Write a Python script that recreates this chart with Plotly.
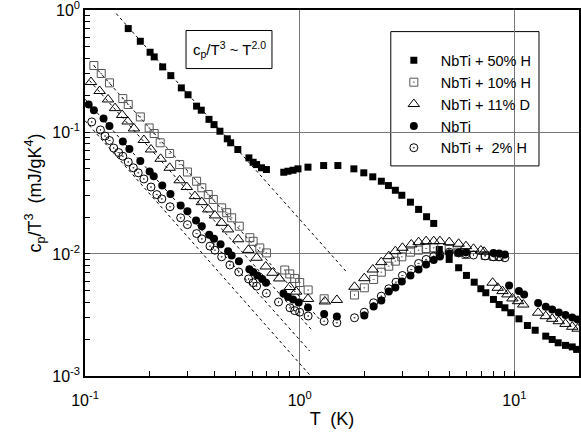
import plotly.graph_objects as go

# NbTi + 50% H (filled squares)
t_50h = [0.159, 0.181, 0.201, 0.210, 0.230, 0.251, 0.281, 0.302, 0.331, 0.348,
         0.378, 0.399, 0.425, 0.460, 0.477, 0.515, 0.580, 0.607, 0.630, 0.664,
         0.700, 0.843, 0.882, 0.931, 0.982, 1.093, 1.293, 1.506, 1.788, 1.989,
         2.19, 2.40, 2.59, 2.79, 2.99, 3.28, 3.58, 3.90, 4.21, 4.47,
         4.97, 5.50, 5.98, 6.50, 6.98, 7.36, 7.99, 8.49, 9.03, 9.62,
         10.5, 11.5, 12.5, 14.0, 15.0, 16.0, 17.3, 18.6, 19.5]
c_50h = [0.705, 0.555, 0.451, 0.413, 0.342, 0.290, 0.230, 0.202, 0.163, 0.151,
         0.127, 0.115, 0.1015, 0.0880, 0.0816, 0.0719, 0.0614, 0.0565, 0.0541, 0.0509,
         0.0493, 0.0468, 0.0477, 0.0486, 0.0499, 0.0515, 0.0531, 0.0531, 0.0499, 0.0463,
         0.0429, 0.0395, 0.0364, 0.0333, 0.0303, 0.0266, 0.0232, 0.0202, 0.0178, 0.01088,
         0.00902, 0.00771, 0.00667, 0.00587, 0.00519, 0.00481, 0.00424, 0.00385, 0.00362, 0.00330,
         0.00294, 0.00259, 0.00237, 0.00212, 0.00199, 0.00187, 0.00178, 0.00173, 0.00165]

# NbTi + 10% H (open squares)
t_10h = [0.110, 0.119, 0.130, 0.150, 0.159, 0.181, 0.199, 0.210, 0.224, 0.248,
         0.276, 0.300, 0.331, 0.350, 0.375, 0.396, 0.433, 0.457, 0.482, 0.523,
         0.586, 0.607, 0.652, 0.700, 0.852, 0.899, 0.948, 1.0, 1.095, 1.30,
         1.80, 2.00, 2.21, 2.40, 2.60, 2.79, 2.99, 3.28, 3.58, 3.88,
         4.21, 4.97, 5.50, 5.95, 7.31, 7.99, 8.49]
c_10h = [0.351, 0.302, 0.253, 0.188, 0.168, 0.133, 0.108, 0.0972, 0.0816, 0.0667,
         0.0541, 0.0470, 0.0395, 0.0349, 0.0307, 0.0280, 0.0239, 0.0218, 0.0198, 0.0169,
         0.0136, 0.0127, 0.0112, 0.0102, 0.00739, 0.00686, 0.00630, 0.00584, 0.00507, 0.00429,
         0.00461, 0.00528, 0.00618, 0.00709, 0.00794, 0.00873, 0.00948, 0.01035, 0.01075, 0.01109,
         0.01124, 0.01088, 0.01035, 0.00990, 0.00972, 0.00954, 0.00952]

# NbTi + 11% D (open triangles)
t_11d = [0.1066, 0.117, 0.128, 0.138, 0.149, 0.158, 0.169, 0.188, 0.203, 0.225,
         0.248, 0.276, 0.298, 0.325, 0.350, 0.375, 0.403, 0.433, 0.464, 0.517,
         0.577, 0.630, 0.695, 0.747, 0.803, 0.899, 0.963, 1.093, 1.31, 1.49,
         1.80, 2.00, 2.19, 2.40, 2.60, 2.79, 3.01, 3.31, 3.58, 3.88,
         4.21, 4.50, 4.97, 5.50, 5.95, 6.45, 6.98, 7.23, 7.92, 8.36,
         8.80, 9.28, 9.79, 10.4, 11.0, 12.9, 14.0, 15.0, 16.1, 17.3,
         18.6, 19.7]
c_11d = [0.257, 0.217, 0.185, 0.157, 0.138, 0.122, 0.107, 0.0860, 0.0719, 0.0603,
         0.0509, 0.0402, 0.0354, 0.0298, 0.0266, 0.0232, 0.0207, 0.0180, 0.0159, 0.0132,
         0.0108, 0.00931, 0.00790, 0.00701, 0.00630, 0.00536, 0.00491, 0.00428, 0.00408, 0.00420,
         0.00538, 0.00633, 0.00746, 0.00857, 0.00959, 0.01054, 0.01124, 0.01197, 0.0125, 0.01274,
         0.01274, 0.01274, 0.0125, 0.01213, 0.01159, 0.01103, 0.01068, 0.01042, 0.00581, 0.00528,
         0.00496, 0.00466, 0.00432, 0.00410, 0.00385, 0.00330, 0.00309, 0.00294, 0.00281, 0.00267,
         0.00253, 0.00244]

# NbTi (filled circles)
t_nbti = [0.104, 0.110, 0.122, 0.130, 0.150, 0.161, 0.181, 0.200, 0.209, 0.229,
          0.250, 0.279, 0.300, 0.329, 0.350, 0.379, 0.399, 0.428, 0.464, 0.482,
          0.521, 0.583, 0.607, 0.635, 0.669, 0.697, 0.840, 0.882, 0.931, 0.989,
          1.093, 1.30, 1.49, 2.00, 2.21, 2.40, 2.60, 2.79, 2.99, 3.28,
          3.58, 3.88, 4.21, 4.50, 4.97, 5.50, 5.95, 7.99, 8.49, 9.03,
          9.45, 10.5, 11.1, 12.9, 14.0, 15.0, 16.1, 17.3, 18.6, 19.7]
c_nbti = [0.168, 0.151, 0.129, 0.112, 0.0836, 0.0725, 0.0578, 0.0475, 0.0434, 0.0364,
          0.0310, 0.0250, 0.0224, 0.0188, 0.0169, 0.0144, 0.0133, 0.0120, 0.01054, 0.00972,
          0.00873, 0.00750, 0.00712, 0.00666, 0.00624, 0.00581, 0.00475, 0.00444, 0.00424, 0.00400,
          0.00364, 0.00322, 0.00307, 0.00313, 0.00371, 0.00416, 0.00493, 0.00531, 0.00595, 0.00666,
          0.00746, 0.00820, 0.00893, 0.00954, 0.0101, 0.0103, 0.0103, 0.0102, 0.0101, 0.00990,
          0.00552, 0.00496, 0.00466, 0.00397, 0.00369, 0.00351, 0.00332, 0.00316, 0.00302, 0.00290]

# NbTi + 2% H (open circles)
t_2h = [0.1075, 0.118, 0.124, 0.130, 0.136, 0.1435, 0.150, 0.159, 0.168, 0.177,
        0.188, 0.203, 0.216, 0.228, 0.249, 0.279, 0.300, 0.331, 0.350, 0.382,
        0.403, 0.433, 0.473, 0.520, 0.578, 0.607, 0.630, 0.700, 0.797, 0.901,
        0.948, 1.0, 1.095, 1.30, 1.49, 1.80, 2.00, 2.21, 2.40, 2.60,
        2.81, 3.01, 3.31, 3.58, 3.88, 4.21, 4.50, 4.97, 5.50, 5.95,
        6.45, 7.31, 7.99, 8.49, 9.03]
c_2h = [0.121, 0.104, 0.0927, 0.0852, 0.0739, 0.0679, 0.0633, 0.0568, 0.0509, 0.0463,
        0.0412, 0.0354, 0.0307, 0.0283, 0.0244, 0.0198, 0.0174, 0.0147, 0.0133, 0.01159,
        0.01074, 0.00948, 0.00812, 0.00712, 0.00624, 0.00581, 0.00545, 0.00477, 0.00404, 0.00362,
        0.00343, 0.00333, 0.00310, 0.00281, 0.00273, 0.00300, 0.00333, 0.00398, 0.00451, 0.00519,
        0.00587, 0.00666, 0.00746, 0.00836, 0.00902, 0.00959, 0.00990, 0.01035, 0.0102, 0.0100,
        0.00981, 0.00963, 0.00948, 0.00948, 0.00931]

# T^-2 guide lines: end points
fit_t = [[0.1397, 1.666], [0.11, 1.261], [0.105, 1.133], [0.10, 1.113], [0.10, 1.16]]
fit_c = [[0.936, 0.00702], [0.350, 0.00281], [0.264, 0.00240], [0.186, 0.00160], [0.124, 0.00094]]

fig = go.Figure()

# dashed guide lines
for tt, cc in zip(fit_t, fit_c):
    fig.add_trace(go.Scatter(
        x=tt, y=cc, mode='lines', showlegend=False, hoverinfo='skip',
        line=dict(color='black', width=1, dash='3px,3px')
    ))

series = [
    ("NbTi + 50% H", t_50h, c_50h, dict(symbol='square', size=7, color='black')),
    ("NbTi + 10% H", t_10h, c_10h, dict(symbol='square-open-dot', size=8, color='#555555',
                                         line=dict(width=1, color='#555555'))),
    ("NbTi + 11% D", t_11d, c_11d, dict(symbol='triangle-up-open', size=10, color='black',
                                         line=dict(width=1, color='black'))),
    ("NbTi", t_nbti, c_nbti, dict(symbol='circle', size=8, color='black')),
    ("NbTi +  2% H", t_2h, c_2h, dict(symbol='circle-open-dot', size=8, color='black',
                                        line=dict(width=1, color='black'))),
]
for name, tt, cc, mk in series:
    fig.add_trace(go.Scatter(x=tt, y=cc, mode='markers', name=name, marker=mk))

x_minor = [0.2, 0.3, 0.4, 0.5, 0.6, 0.7, 0.8, 0.9, 2, 3, 4, 5, 6, 7, 8, 9, 20]
y_minor = [m * 10 ** e for e in (-3, -2, -1) for m in range(2, 10)]

fig.update_xaxes(
    type='log', range=[-1, 1.301], automargin=False,
    tickvals=[0.1, 1, 10], ticktext=['10<sup>-1</sup>', '10<sup>0</sup>', '10<sup>1</sup>'],
    ticks='inside', ticklen=5, tickcolor='black', ticklabelstandoff=9,
    ticklabeloverflow='allow',
    minor=dict(tickvals=x_minor, ticks='inside', ticklen=5, tickcolor='black', showgrid=False),
    showline=True, linecolor='black', linewidth=1.5, mirror=True,
    showgrid=True, gridcolor='#777777', gridwidth=1, zeroline=False,
    title=dict(text='T  (K)', font=dict(size=18), standoff=4),
    tickfont=dict(size=16),
)
fig.update_yaxes(
    type='log', range=[-3.0005, 0.0005], automargin=False,
    tickvals=[0.001, 0.01, 0.1, 1],
    ticktext=['10<sup>-3</sup>', '10<sup>-2</sup>', '10<sup>-1</sup>', '10<sup>0</sup>'],
    ticks='inside', ticklen=5, tickcolor='black', ticklabeloverflow='allow',
    minor=dict(tickvals=y_minor, ticks='inside', ticklen=5, tickcolor='black', showgrid=False),
    showline=True, linecolor='black', linewidth=1.5, mirror=True,
    showgrid=True, gridcolor='#777777', gridwidth=1, zeroline=False,
    title=dict(text='c<sub>p</sub>/T<sup>3</sup>  (mJ/gK<sup>4</sup>)', font=dict(size=18), standoff=6),
    tickfont=dict(size=16),
)

# legend frame and annotation frame
fig.add_shape(type='rect', xref='paper', yref='paper',
              x0=0.619, x1=0.919, y0=0.574, y1=0.941,
              line=dict(color='black', width=1), fillcolor='white', layer='below')
fig.add_shape(type='rect', xref='paper', yref='paper',
              x0=0.2045, x1=0.3785, y0=0.840, y1=0.944,
              line=dict(color='black', width=1), fillcolor='white', layer='below')

fig.add_annotation(
    x=0.2915, y=0.892, xref='paper', yref='paper', showarrow=False,
    xanchor='center', yanchor='middle',
    text='c<sub>p</sub>/T<sup>3</sup> ~ T<sup>2.0</sup>',
    font=dict(size=15, color='black'),
)

fig.update_layout(
    width=581, height=436,
    margin=dict(l=85, r=2, t=10, b=60),
    paper_bgcolor='white', plot_bgcolor='white',
    font=dict(family='Liberation Sans, Arial, sans-serif', color='black'),
    showlegend=True,
    legend=dict(x=0.611, y=0.906, xanchor='left', yanchor='top',
                bgcolor='rgba(0,0,0,0)', borderwidth=0, itemwidth=44,
                font=dict(size=14.5), tracegroupgap=0),
)

# drop the default page margin so the 581x436 figure fills the window
fig.write_html("out.html", config={'displayModeBar': False},
               post_script="document.body.style.margin='0';")
